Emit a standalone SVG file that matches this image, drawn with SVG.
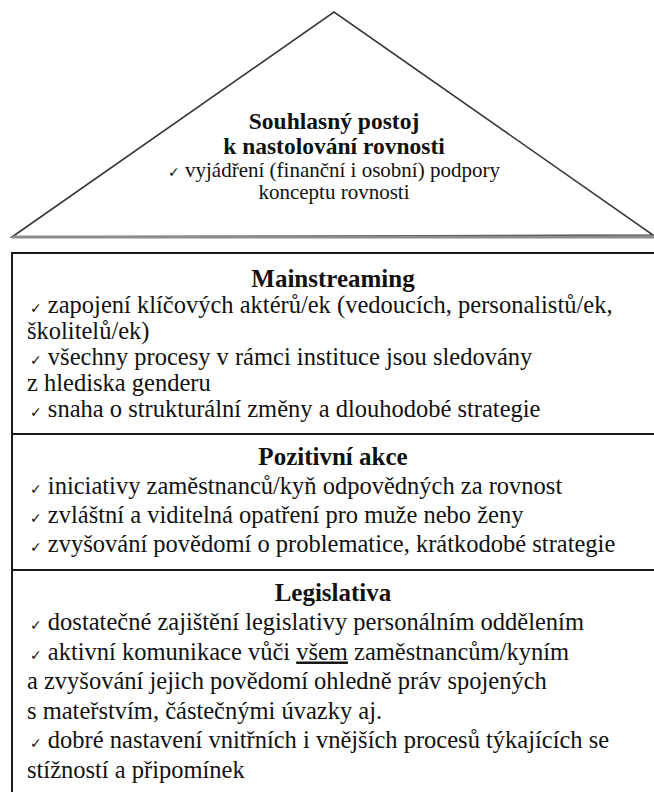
<svg xmlns="http://www.w3.org/2000/svg" width="654" height="792" viewBox="0 0 654 792" font-family="'Liberation Serif','DejaVu Serif',serif">
<style>
text{font-family:"Liberation Serif","DejaVu Serif",serif;fill:#111}
.h{font-weight:bold;font-size:25px;text-anchor:middle}
.ht{font-weight:bold;font-size:23.5px;text-anchor:middle}
.t{font-size:24.5px}
.tc{font-size:21px;text-anchor:middle}
.ck{font-family:"DejaVu Sans",sans-serif;font-size:14px}
.edge{fill:#fff;stroke:#3a3a3a;stroke-width:1.6}
.base{stroke:#8c8c8c;stroke-width:3.2}
.frame{fill:#fff;stroke:#1a1a1a;stroke-width:2}
.sep{stroke:#1a1a1a;stroke-width:2}
</style>
<rect width="654" height="792" fill="#fff"/>
<g id="apex">
<polygon class="edge" points="12,237 334,12 653,235"/>
<line class="base" x1="12" y1="237" x2="654" y2="237"/>
<text class="ht" x="334" y="129">Souhlasný postoj</text>
<text class="ht" x="334" y="154">k nastolování rovnosti</text>
<text class="tc" x="334" y="177"><tspan class="ck">✓</tspan> vyjádření (finanční i osobní) podpory</text>
<text class="tc" x="334" y="199">konceptu rovnosti</text>
</g>
<g id="pillar">
<rect class="frame" x="12" y="253" width="660" height="560"/>
</g>
<g id="mainstreaming">
<text class="h" x="333" y="287">Mainstreaming</text>
<text class="t" x="30" y="313"><tspan class="ck">✓</tspan> zapojení klíčových aktérů/ek (vedoucích, personalistů/ek,</text>
<text class="t" x="27" y="339">školitelů/ek)</text>
<text class="t" x="30" y="365"><tspan class="ck">✓</tspan> všechny procesy v rámci instituce jsou sledovány</text>
<text class="t" x="27" y="391">z hlediska genderu</text>
<text class="t" x="30" y="417"><tspan class="ck">✓</tspan> snaha o strukturální změny a dlouhodobé strategie</text>
<line class="sep" x1="12" y1="434" x2="654" y2="434"/>
</g>
<g id="pozitivni-akce">
<text class="h" x="333" y="465">Pozitivní akce</text>
<text class="t" x="30" y="494"><tspan class="ck">✓</tspan> iniciativy zaměstnanců/kyň odpovědných za rovnost</text>
<text class="t" x="30" y="523"><tspan class="ck">✓</tspan> zvláštní a viditelná opatření pro muže nebo ženy</text>
<text class="t" x="30" y="552"><tspan class="ck">✓</tspan> zvyšování povědomí o problematice, krátkodobé strategie</text>
<line class="sep" x1="12" y1="570" x2="654" y2="570"/>
</g>
<g id="legislativa">
<text class="h" x="333" y="601">Legislativa</text>
<text class="t" x="30" y="630"><tspan class="ck">✓</tspan> dostatečné zajištění legislativy personálním oddělením</text>
<text class="t" x="30" y="659.5"><tspan class="ck">✓</tspan> aktivní komunikace vůči <tspan text-decoration="underline">všem</tspan> zaměstnancům/kyním</text>
<text class="t" x="27" y="689">a zvyšování jejich povědomí ohledně práv spojených</text>
<text class="t" x="27" y="718.5">s mateřstvím, částečnými úvazky aj.</text>
<text class="t" x="30" y="748"><tspan class="ck">✓</tspan> dobré nastavení vnitřních i vnějších procesů týkajících se</text>
<text class="t" x="27" y="777.5">stížností a připomínek</text>
</g>
<g id="connectors"/>
</svg>
